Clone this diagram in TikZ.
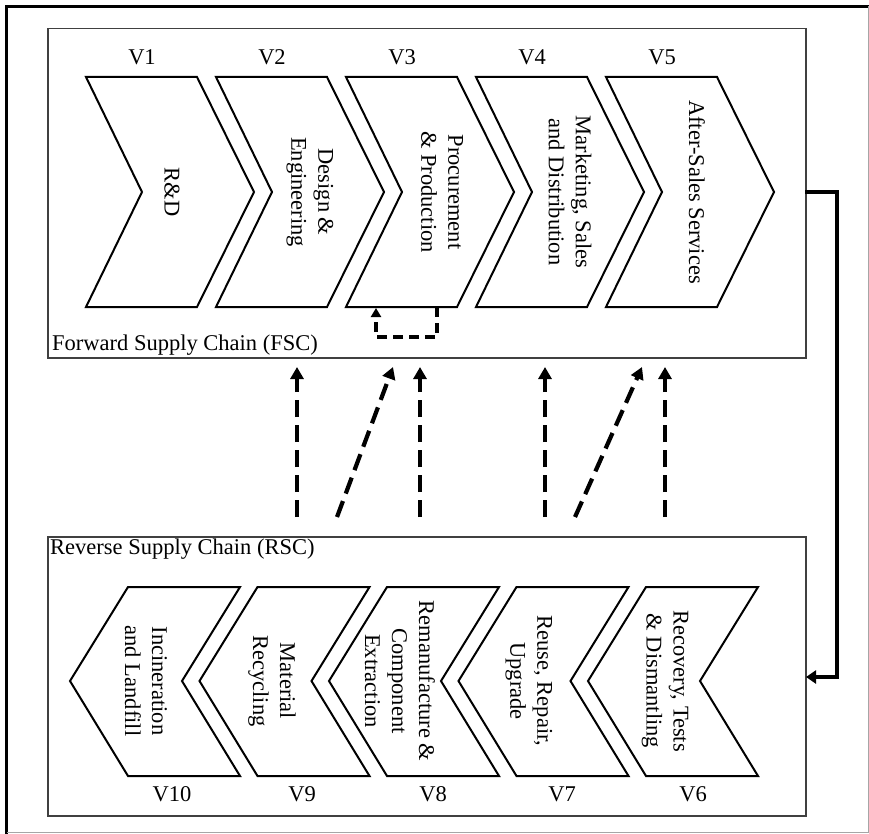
\documentclass[tikz,border=0pt]{standalone}
\usepackage{fontspec}
\setmainfont{Liberation Serif}
\usetikzlibrary{arrows.meta}
\begin{document}
\begin{tikzpicture}[x=1pt,y=-1pt,
  chev/.style={draw, line width=2pt, line join=miter},
  vlab/.style={font=\fontsize{22.5}{26}\selectfont, inner sep=0pt},
  ctext/.style={rotate=-90, align=center, font=\fontsize{22.5}{27}\selectfont, inner sep=0pt},
  dasharrow/.style={line width=4.2pt, dash pattern=on 17pt off 8pt, -{Triangle[length=12pt,width=13pt]}},
  looparrow/.style={line width=3.5pt, dash pattern=on 10pt off 6pt, -{Triangle[length=9pt,width=10pt]}},
  boxstyle/.style={draw=black!75, line width=1.5pt, inner sep=0pt, anchor=north west},
  chainlab/.style={anchor=west, font=\fontsize{22.5}{26}\selectfont, inner sep=0pt}
]
\useasboundingbox (0,0) rectangle (869,834);
% outer frame
\draw[line width=3.5pt] (6.5,834) -- (6.5,6.5) -- (869,6.5);
\draw[black!35, line width=1pt] (868,6.5) -- (868,832) -- (6.5,832);

% boxes
\node[boxstyle, minimum width=758pt, minimum height=329pt] (fsc) at (47,28) {};
\node[boxstyle, minimum width=758pt, minimum height=279pt] (rsc) at (47,536) {};
\node[chainlab] (fsclab) at (52,345) {Forward Supply Chain (FSC)};
\node[chainlab] (rsclab) at (50,549) {Reverse Supply Chain (RSC)};

% forward chevrons
\foreach \L in {86,216,346,476,606} {
  \draw[chev] (\L,77) -- (\L+111,77) -- (\L+168,192) -- (\L+111,307) -- (\L,307) -- (\L+56,192) -- cycle;
}
\node[vlab] (v1) at (142,57) {V1};
\node[vlab] (v2) at (272,57) {V2};
\node[vlab] (v3) at (402,57) {V3};
\node[vlab] (v4) at (532,57) {V4};
\node[vlab] (v5) at (662,57) {V5};
\node[ctext] (f1) at (172,192) {R\&D};
\node[ctext] (f2) at (310,192) {Design \&\\Engineering};
\node[ctext] (f3) at (442,192) {Procurement\\\& Production};
\node[ctext] (f4) at (570,192) {Marketing, Sales\\and Distribution};
\node[ctext] (f5) at (697,192) {After-Sales Services};

% reverse chevrons
\foreach \P in {70,199.5,329,458.5,588} {
  \draw[chev] (\P,681) -- (\P+58,587) -- (\P+170,587) -- (\P+112,681) -- (\P+170,776) -- (\P+58,776) -- cycle;
}
\node[vlab] (v10) at (172,794) {V10};
\node[vlab] (v9) at (302,794) {V9};
\node[vlab] (v8) at (433,794) {V8};
\node[vlab] (v7) at (562,794) {V7};
\node[vlab] (v6) at (693,794) {V6};
\node[ctext] (r10) at (146,681) {Incineration\\and Landfill};
\node[ctext] (r9) at (272,681) {Material\\Recycling};
\node[ctext] (r8) at (400,681) {Remanufacture \&\\Component\\Extraction};
\node[ctext] (r7) at (529,681) {Reuse, Repair,\\Upgrade};
\node[ctext] (r6) at (665,681) {Recovery, Tests\\\& Dismantling};

% dashed arrows from RSC to FSC
\coordinate (a1s) at (297,517); \coordinate (a1e) at (297,367);
\coordinate (a2s) at (337,517); \coordinate (a2e) at (393,367);
\coordinate (a3s) at (420,517); \coordinate (a3e) at (420,367);
\coordinate (a4s) at (545,517); \coordinate (a4e) at (545,367);
\coordinate (a5s) at (575,517); \coordinate (a5e) at (642,367);
\coordinate (a6s) at (665,517); \coordinate (a6e) at (665,367);
\foreach \k in {1,...,6} { \draw[dasharrow] (a\k s) -- (a\k e); }

% loop arrow under V3
\coordinate (l1) at (437,307);
\coordinate (l2) at (376,308);
\draw[looparrow] (l1) -- (437,337) -- (376,337) -- (l2);

% right connector FSC -> RSC
\coordinate (c1) at (805,192);
\coordinate (c2) at (806,677);
\draw[line width=4.5pt, line join=miter, -{Triangle[length=10pt,width=13pt]}] (c1) -- (837,192) -- (837,677) -- (c2);
\end{tikzpicture}
\end{document}
